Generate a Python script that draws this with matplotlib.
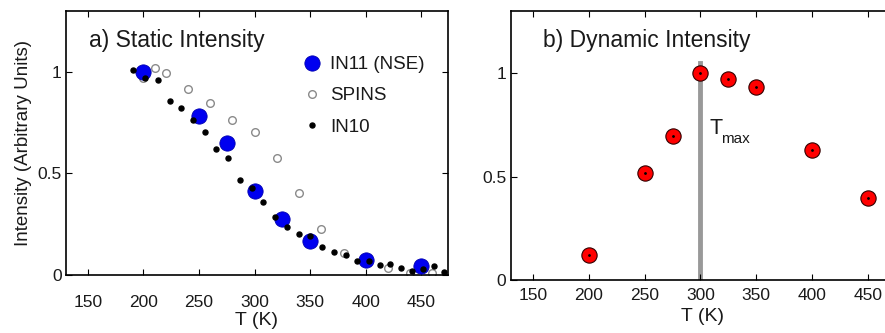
import numpy as np
import matplotlib
matplotlib.use("Agg")
import matplotlib.pyplot as plt

plt.rcParams['font.family'] = ['Liberation Sans', 'DejaVu Sans']

# panel a: static intensity
in11_T = [200, 250, 275, 300, 325, 350, 400, 450]
in11_I = [1.0, 0.784, 0.648, 0.415, 0.275, 0.17, 0.074, 0.046]

spins_T = [200, 210, 220, 240, 260, 280, 300, 320, 340, 360, 380, 420, 440, 460]
spins_I = [0.97, 1.018, 0.997, 0.915, 0.848, 0.762, 0.705, 0.577, 0.403, 0.228,
           0.111, 0.033, 0.010, 0.008]

in10_T = [191, 201.5, 213, 223.5, 234, 244.5, 255, 265.5, 276, 286.5, 297.5, 308,
          318.5, 329, 340, 350, 360.5, 371.5, 382, 392.5, 403, 412.5, 422, 432,
          442, 451.5, 461, 470.5]
in10_I = [1.010, 0.970, 0.959, 0.857, 0.823, 0.764, 0.705, 0.623, 0.574, 0.470,
          0.428, 0.361, 0.284, 0.238, 0.200, 0.190, 0.136, 0.115, 0.098, 0.067,
          0.070, 0.048, 0.052, 0.033, 0.021, 0.028, 0.046, 0.013]

# panel b: dynamic intensity
dyn_T = [200, 250, 275, 300, 325, 350, 400, 450]
dyn_I = [0.121, 0.516, 0.694, 1.0, 0.973, 0.935, 0.626, 0.395]
T_max = 300

xticks = [150, 200, 250, 300, 350, 400, 450]
yticks = [0, 0.5, 1]
yticklabels = ['0', '0.5', '1']

fig = plt.figure(figsize=(8.85, 3.33), dpi=100)
axa = fig.add_axes([0.0742, 0.174, 0.432, 0.793])
axb = fig.add_axes([0.577, 0.159, 0.434, 0.808])

txt = '#1a1a1a'
for ax in (axa, axb):
    ax.set_xlim(130, 474)
    ax.set_ylim(0, 1.3)
    ax.set_xticks(xticks)
    ax.set_yticks(yticks)
    ax.set_yticklabels(yticklabels)
    ax.tick_params(direction='in', top=True, right=True, length=4, width=0.8,
                   labelsize=12.5, colors='black', labelcolor=txt)
    for s in ax.spines.values():
        s.set_linewidth(1.2)

axa.tick_params(axis='x', pad=14)
axa.tick_params(axis='y', pad=3)
axb.tick_params(axis='x', pad=5.5)
axb.tick_params(axis='y', pad=3)
axa.set_xlabel('T (K)', fontsize=14, color=txt, labelpad=1.5)
axb.set_xlabel('T (K)', fontsize=14, color=txt, labelpad=4)

axa.plot(spins_T, spins_I, 'o', ms=5.5, mfc='white', mec='#8a8a8a', mew=1.0,
         label='SPINS', zorder=2)
axa.plot(in11_T, in11_I, 'o', ms=11, mfc='#0000f0', mec='#0000b0', mew=0.6,
         label='IN11 (NSE)', zorder=3)
axa.plot(in10_T, in10_I, 'o', ms=3.6, mfc='black', mec='black',
         label='IN10', zorder=4)
axa.set_ylabel('Intensity (Arbitrary Units)', fontsize=13.5, color=txt, labelpad=4)
axa.text(0.06, 0.89, 'a) Static Intensity', transform=axa.transAxes,
         fontsize=16.5, color=txt, va='center')
h, l = axa.get_legend_handles_labels()
axa.legend([h[1], h[0], h[2]], [l[1], l[0], l[2]], loc='upper left',
           bbox_to_anchor=(0.594, 0.865), frameon=False, fontsize=13.5,
           handlelength=1.0, handletextpad=0.5, labelspacing=0.75, borderpad=0,
           numpoints=1, labelcolor=txt)

axb.axvline(T_max, ymin=0, ymax=1.05 / 1.3, color='#999999', lw=3.5, zorder=1)
axb.plot(dyn_T, dyn_I, 'o', ms=11, mfc='#ff0000', mec='#300000', mew=0.8, zorder=3)
axb.plot(dyn_T, dyn_I, 'o', ms=1, mfc='black', mec='black', zorder=4)
# T_max label: big T with a larger, lower subscript than mathtext gives
axb.text(308, 0.73, 'T', fontsize=15.5, color=txt, va='center')
axb.annotate('max', xy=(308, 0.73), xytext=(8.5, -7), textcoords='offset points',
             fontsize=11, color=txt, va='center')
axb.text(0.085, 0.89, 'b) Dynamic Intensity', transform=axb.transAxes,
         fontsize=16.5, color=txt, va='center')

fig.savefig('out.png', dpi=100)
